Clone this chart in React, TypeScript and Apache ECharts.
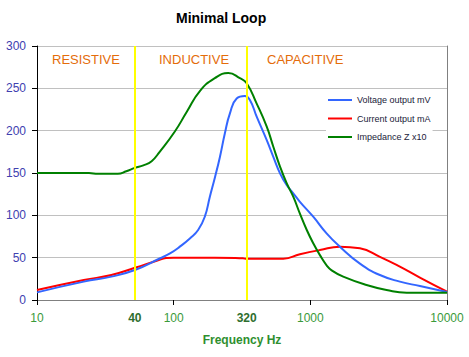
import React, { useEffect, useRef } from "react";
import * as echarts from "echarts";

const freqV = [10, 22, 35, 52, 79, 94, 111, 132, 151, 169, 184, 201, 218, 237, 258, 289, 332, 362, 405, 479, 536, 600, 671, 750, 839, 1050, 1315, 1645, 2306, 3230, 4520, 6336, 10000];
const voltage = [9, 21.7, 27.6, 35.4, 49, 55, 63, 73, 82.7, 98.4, 122, 145.6, 169, 197, 220.5, 238, 241, 236, 216.5, 189, 169, 149.6, 135.8, 126, 116, 98.4, 78.7, 63, 43, 29.5, 21.7, 16.5, 9.5];

const freqI = [10, 22, 35, 52, 77, 88, 100, 200, 321, 342, 634, 839, 1175, 1645, 2306, 3230, 4520, 6336, 10000];
const current = [11.8, 23.6, 29.5, 38, 47, 49.5, 50, 50, 49.2, 48.6, 48.8, 54, 59, 63, 61, 51, 39.4, 26.5, 9.8];

const freqZ = [10, 24, 28, 39, 45, 52, 60, 69, 79, 102, 124.5, 156, 200, 251, 305, 342, 405, 479, 536, 600, 671, 750, 839, 940, 1050, 1175, 1315, 1432, 1740, 2580, 3610, 5070, 10000];
const impedance = [150, 150, 149, 149, 152, 156, 159, 164, 175, 199, 222, 247, 262, 268, 262, 256, 232, 205, 181, 157.5, 138, 122, 102, 83, 67, 53, 41, 35, 27.6, 17.7, 11.8, 8.7, 8.7];

const seriesNames = ["Voltage output mV", "Current output mA", "Impedance Z x10"];
const boundaryFreq = [52, 342];
const boundaryLabels = ["40", "320"];
const regionLabels = ["RESISTIVE", "INDUCTIVE", "CAPACITIVE"];

const FONT = "'Liberation Sans', Arial, sans-serif";

const pairs = (xs: number[], ys: number[]) => xs.map((x, i) => [x, ys[i]]);

export default function App() {
  const ref = useRef<HTMLDivElement>(null);
  useEffect(() => {
    document.body.style.margin = "0";
    if (!ref.current) return;
    const chart = echarts.init(ref.current, undefined, { renderer: "svg" });
    const lineCommon = {
      type: "line" as const,
      symbol: "none",
      smooth: 0.5,
      xAxisIndex: 0,
      yAxisIndex: 0,
    };
    chart.setOption({
      animation: false,
      backgroundColor: "#ffffff",
      textStyle: { fontFamily: FONT },
      title: {
        text: "Minimal Loop",
        left: 176,
        top: 11,
        padding: 0,
        textStyle: { fontSize: 14, fontWeight: "bold", color: "#000", fontFamily: FONT },
      },
      grid: { left: 37, right: 22, top: 46, bottom: 57, containLabel: false },
      legend: {
        data: seriesNames,
        orient: "vertical",
        left: 326,
        top: 91,
        padding: [3, 2, 3, 2],
        backgroundColor: "#ffffff",
        icon: "rect",
        itemWidth: 24,
        itemHeight: 2,
        itemGap: 6.5,
        textStyle: { fontSize: 9, color: "#1a1a3a", fontFamily: FONT, lineHeight: 12 },
      },
      xAxis: [
        {
          type: "log",
          logBase: 10,
          min: 10,
          max: 10000,
          name: "Frequency Hz",
          nameLocation: "middle",
          nameGap: 34,
          nameTextStyle: { color: "#2f8f2f", fontSize: 12, fontWeight: "bold", fontFamily: FONT },
          axisLine: { lineStyle: { color: "#000", width: 1 } },
          axisTick: { show: true, length: 5, inside: false, lineStyle: { color: "#000" } },
          minorTick: { show: false },
          axisLabel: {
            color: "#3a9a3a",
            fontSize: 12,
            margin: 12,
            fontFamily: FONT,
            formatter: (v: number) => String(Math.round(v)),
          },
          splitLine: { show: false },
        },
        {
          type: "log",
          logBase: 10,
          min: 10,
          max: 10000,
          position: "top",
          axisLine: { show: true, lineStyle: { color: "#808080" } },
          axisTick: { show: false },
          axisLabel: { show: false },
          splitLine: { show: false },
        },
      ],
      yAxis: [
        {
          type: "value",
          min: 0,
          max: 300,
          interval: 50,
          axisLine: { show: true, lineStyle: { color: "#000", width: 1 } },
          axisTick: { show: true, length: 5, lineStyle: { color: "#000" } },
          axisLabel: { color: "#4040b0", fontSize: 12, margin: 11, fontFamily: FONT },
          splitLine: { show: true, lineStyle: { color: "#c0c0c0", width: 1 } },
        },
        {
          type: "value",
          min: 0,
          max: 300,
          interval: 50,
          position: "right",
          axisLine: { show: true, lineStyle: { color: "#808080" } },
          axisTick: { show: false },
          axisLabel: { show: false },
          splitLine: { show: false },
        },
      ],
      graphic: [
        { type: "text", left: 52, top: 53, style: { text: regionLabels[0], fill: "#e46c0a", font: `13px ${FONT}` } },
        { type: "text", left: 159, top: 53, style: { text: regionLabels[1], fill: "#e46c0a", font: `13px ${FONT}` } },
        { type: "text", left: 267, top: 53, style: { text: regionLabels[2], fill: "#e46c0a", font: `13px ${FONT}` } },
      ],
      series: [
        { ...lineCommon, name: seriesNames[0], data: pairs(freqV, voltage), lineStyle: { color: "#3366ff", width: 2 }, itemStyle: { color: "#3366ff" }, z: 3 },
        { ...lineCommon, name: seriesNames[1], data: pairs(freqI, current), lineStyle: { color: "#ff0000", width: 2 }, itemStyle: { color: "#ff0000" }, z: 2 },
        { ...lineCommon, name: seriesNames[2], data: pairs(freqZ, impedance), lineStyle: { color: "#008000", width: 2 }, itemStyle: { color: "#008000" }, z: 4 },
        {
          type: "line",
          name: "boundaries",
          data: [],
          z: 6,
          markLine: {
            silent: true,
            symbol: ["none", "none"],
            lineStyle: { color: "#ffff00", width: 2, type: "solid" },
            label: {
              show: true,
              position: "start",
              distance: 12,
              color: "#2e6e2e",
              fontWeight: "bold",
              fontSize: 12,
              fontFamily: FONT,
            },
            data: boundaryFreq.map((f, i) => ({ xAxis: f, label: { formatter: boundaryLabels[i] } })),
          },
        },
      ],
    });
    return () => chart.dispose();
  }, []);
  return <div ref={ref} style={{ width: 469, height: 357 }} />;
}
